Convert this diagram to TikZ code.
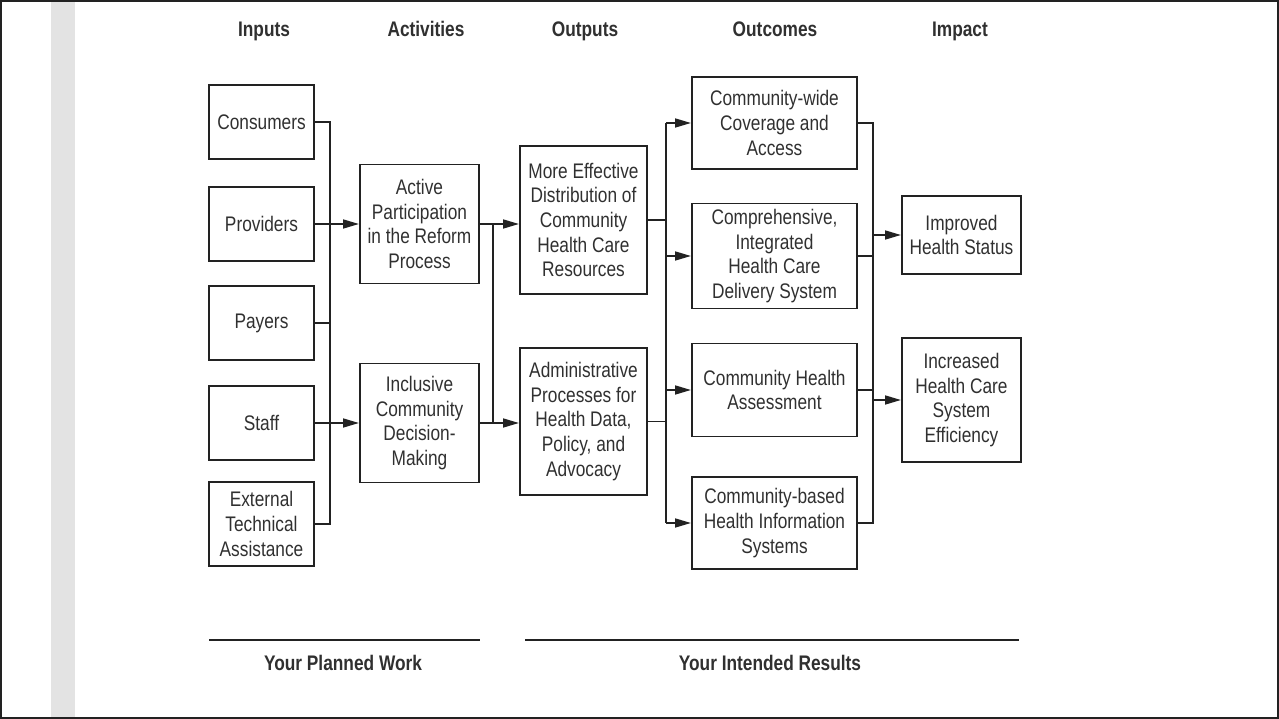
\documentclass[tikz,border=0pt]{standalone}
\usepackage{fontspec}
\setmainfont{Liberation Sans}[FakeStretch=0.82]
\usetikzlibrary{arrows.meta}
\definecolor{ink}{HTML}{222222}
\definecolor{txt}{HTML}{303030}

\begin{document}
\begin{tikzpicture}[x=0.02cm,y=-0.02cm,
  box/.style={draw=ink,line width=1.1pt,align=center,inner sep=1pt,text=txt,font=\fontsize{12}{14}\selectfont},
  inbox/.style={box,minimum width=2.1cm,minimum height=1.48cm},
  actbox/.style={box,minimum width=2.38cm,minimum height=2.38cm},
  outbox/.style={box,minimum width=2.54cm,minimum height=2.95cm},
  resbox/.style={box,minimum width=3.3cm,minimum height=1.84cm},
  impbox/.style={box,minimum width=2.38cm,minimum height=1.56cm},
  hdr/.style={anchor=base,text=txt,font=\fontsize{12}{14}\selectfont\bfseries},
  link/.style={draw=ink,line width=1.1pt},
  arr/.style={link,-{Triangle[length=9pt,width=5pt]}}]
\useasboundingbox (0,0) rectangle (1279,719);
\fill[gray!22] (51,0) rectangle (75,719);
\draw[ink,line width=0.04cm] (1,1) rectangle (1278,718);

% column headings
\node[hdr] (hin) at (264,37) {Inputs};
\node[hdr] (hact) at (426,37) {Activities};
\node[hdr] (hout) at (585,37) {Outputs};
\node[hdr] (hres) at (775,37) {Outcomes};
\node[hdr] (himp) at (960,37) {Impact};

% inputs
\node[inbox] (cons) at (261.5,122) {Consumers};
\node[inbox] (prov) at (261.5,224) {Providers};
\node[inbox] (pay) at (261.5,323) {Payers};
\node[inbox] (staff) at (261.5,423) {Staff};
\node[inbox,minimum height=1.68cm] (ext) at (261.5,524) {External\\Technical\\Assistance};

% activities
\node[actbox] (act) at (419.5,224) {Active\\Participation\\in the Reform\\Process};
\node[actbox] (incl) at (419.5,423) {Inclusive\\Community\\Decision-\\Making};

% outputs
\node[outbox] (eff) at (583.5,220) {More Effective\\Distribution of\\Community\\Health Care\\Resources};
\node[outbox] (adm) at (583.5,421.5) {Administrative\\Processes for\\Health Data,\\Policy, and\\Advocacy};

% outcomes
\node[resbox] (cov) at (774.5,123) {Community-wide\\Coverage and\\Access};
\node[resbox,minimum height=2.1cm] (comp) at (774.5,256) {Comprehensive,\\Integrated\\Health Care\\Delivery System};
\node[resbox,minimum height=1.86cm] (cha) at (774.5,390) {Community Health\\Assessment};
\node[resbox] (cbh) at (774.5,523) {Community-based\\Health Information\\Systems};

% impact
\node[impbox] (imp) at (961.5,235) {Improved\\Health Status};
\node[impbox,minimum height=2.48cm] (eff2) at (961.5,400) {Increased\\Health Care\\System\\Efficiency};

% buses
\coordinate (b1) at (330,0);
\coordinate (b2) at (493,0);
\coordinate (b3) at (666,0);
\coordinate (b4) at (873,0);

\draw[link] (cons.east) -| (b1 |- ext.east) -- (ext.east);
\draw[link] (pay.east) -- (b1 |- pay.east);
\draw[arr] (prov.east) -- (act.west);
\draw[arr] (staff.east) -- (incl.west);

\draw[link] (act.east) -| (b2 |- incl.east) -- (incl.east);
\draw[arr] (b2 |- act.east) -- (eff.west |- act.east);
\draw[arr] (b2 |- incl.east) -- (adm.west |- incl.east);

\draw[link] (eff.east) -- (b3 |- eff.east);
\draw[link] (adm.east) -- (b3 |- adm.east);
\draw[link] (b3 |- cov.west) -- (b3 |- cbh.west);
\foreach \n in {cov,comp,cha,cbh}
  \draw[arr] (b3 |- \n.west) -- (\n.west);

\draw[link] (cov.east) -| (b4 |- cbh.east) -- (cbh.east);
\draw[link] (comp.east) -- (b4 |- comp.east);
\draw[link] (cha.east) -- (b4 |- cha.east);
\draw[arr] (b4 |- imp.west) -- (imp.west);
\draw[arr] (b4 |- eff2.west) -- (eff2.west);

% bottom
\draw[ink,line width=1.3pt] (209,640) -- (480,640);
\draw[ink,line width=1.3pt] (525,640) -- (1019,640);
\node[hdr] (plan) at (343,670) {Your Planned Work};
\node[hdr] (res) at (770,670) {Your Intended Results};
\end{tikzpicture}
\end{document}
